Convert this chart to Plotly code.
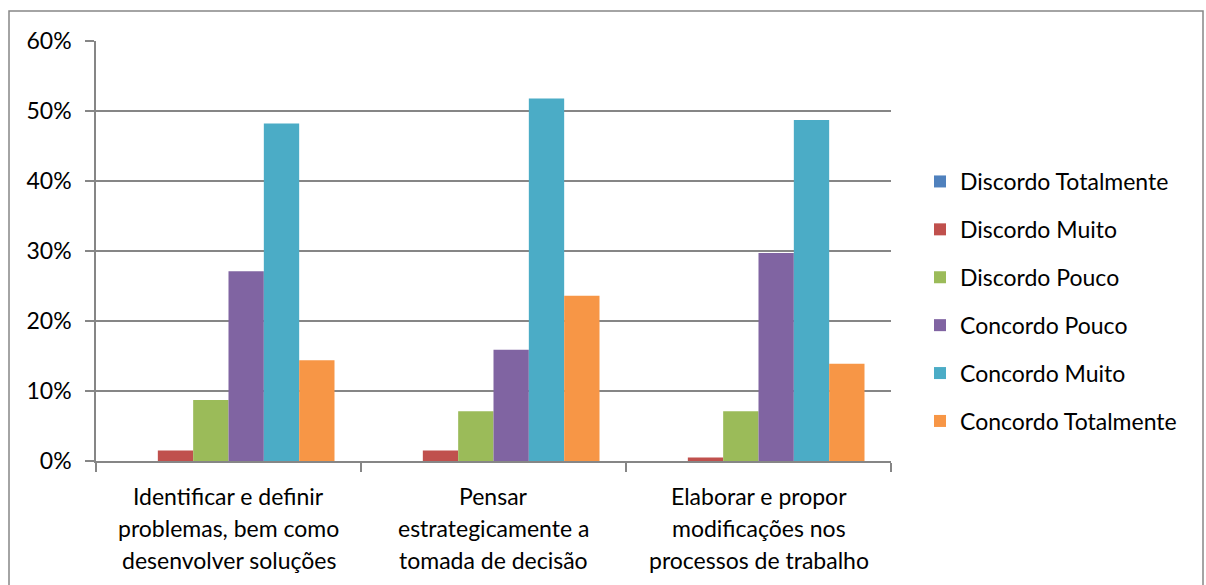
import plotly.graph_objects as go

categories = [
    "Identificar e definir problemas, bem como desenvolver soluções",
    "Pensar estrategicamente a tomada de decisão",
    "Elaborar e propor modificações nos processos de trabalho",
]
label_lines = [
    ["Identificar e definir", "problemas, bem como", "desenvolver soluções"],
    ["Pensar", "estrategicamente a", "tomada de decisão"],
    ["Elaborar e propor", "modificações nos", "processos de trabalho"],
]
series_names = [
    "Discordo Totalmente",
    "Discordo Muito",
    "Discordo Pouco",
    "Concordo Pouco",
    "Concordo Muito",
    "Concordo Totalmente",
]
discordo_totalmente = [0.0, 0.0, 0.0]
discordo_muito = [0.015, 0.015, 0.005]
discordo_pouco = [0.087, 0.071, 0.071]
concordo_pouco = [0.271, 0.159, 0.297]
concordo_muito = [0.482, 0.518, 0.487]
concordo_totalmente = [0.144, 0.236, 0.139]
series_values = [discordo_totalmente, discordo_muito, discordo_pouco,
                 concordo_pouco, concordo_muito, concordo_totalmente]
colors = ["#4F81BD", "#C0504D", "#9BBB59", "#8064A2", "#4BACC6", "#F79646"]

FONT = "Lato"
FS = 23
W, H = 1206, 585
L, R, T, B = 96, 891, 41, 461

fig = go.Figure()
for i, (name, vals) in enumerate(zip(series_names, series_values)):
    fig.add_trace(go.Bar(
        x=categories, y=vals, name=name, marker_color=colors[i],
        marker_line_width=0, legendgroup=name,
    ))

annotations = []
for cat, lines in zip(categories, label_lines):
    for j, line in enumerate(lines):
        annotations.append(dict(
            x=cat, xref="x", y=0, yref="paper", yanchor="middle",
            yshift=-(496 - B) - 32 * j, text=line, showarrow=False,
            font=dict(family=FONT, size=FS, color="#000000"),
        ))

pw = R - L
ph = B - T
fig.add_shape(type="rect", xref="paper", yref="paper",
              x0=(9 - L) / pw, x1=(1203 - L) / pw,
              y0=(B - 590) / ph, y1=(B - 11) / ph,
              line=dict(color="#868686", width=1.5), fillcolor="rgba(0,0,0,0)",
              layer="below")

fig.update_layout(
    width=W, height=H,
    margin=dict(l=L, r=W - R, t=T, b=H - B, pad=0),
    paper_bgcolor="white", plot_bgcolor="white",
    barmode="group", bargap=0.2, bargroupgap=0,
    font=dict(family=FONT, size=FS, color="#000000"),
    showlegend=True,
    legend=dict(x=(920 - L) / pw, xanchor="left", y=(B - 160) / ph, yanchor="top",
                traceorder="grouped", tracegroupgap=15,
                font=dict(family=FONT, size=FS, color="#000000"),
                itemclick=False),
    annotations=annotations,
)
fig.update_xaxes(showticklabels=False, ticks="outside", tickson="boundaries",
                 ticklen=9, tickcolor="#868686", tickwidth=1.5,
                 showline=True, linecolor="#868686", linewidth=1.5,
                 showgrid=False)
fig.update_yaxes(range=[0, 0.6], dtick=0.1, tickformat=".0%",
                 ticks="outside", ticklen=9, tickcolor="#868686", tickwidth=1.5,
                 showline=True, linecolor="#868686", linewidth=1.5,
                 showgrid=True, gridcolor="#868686", gridwidth=1.5,
                 zeroline=False, ticklabelstandoff=9,
                 tickfont=dict(family=FONT, size=FS, color="#000000"))

fig.write_html("out.html")
